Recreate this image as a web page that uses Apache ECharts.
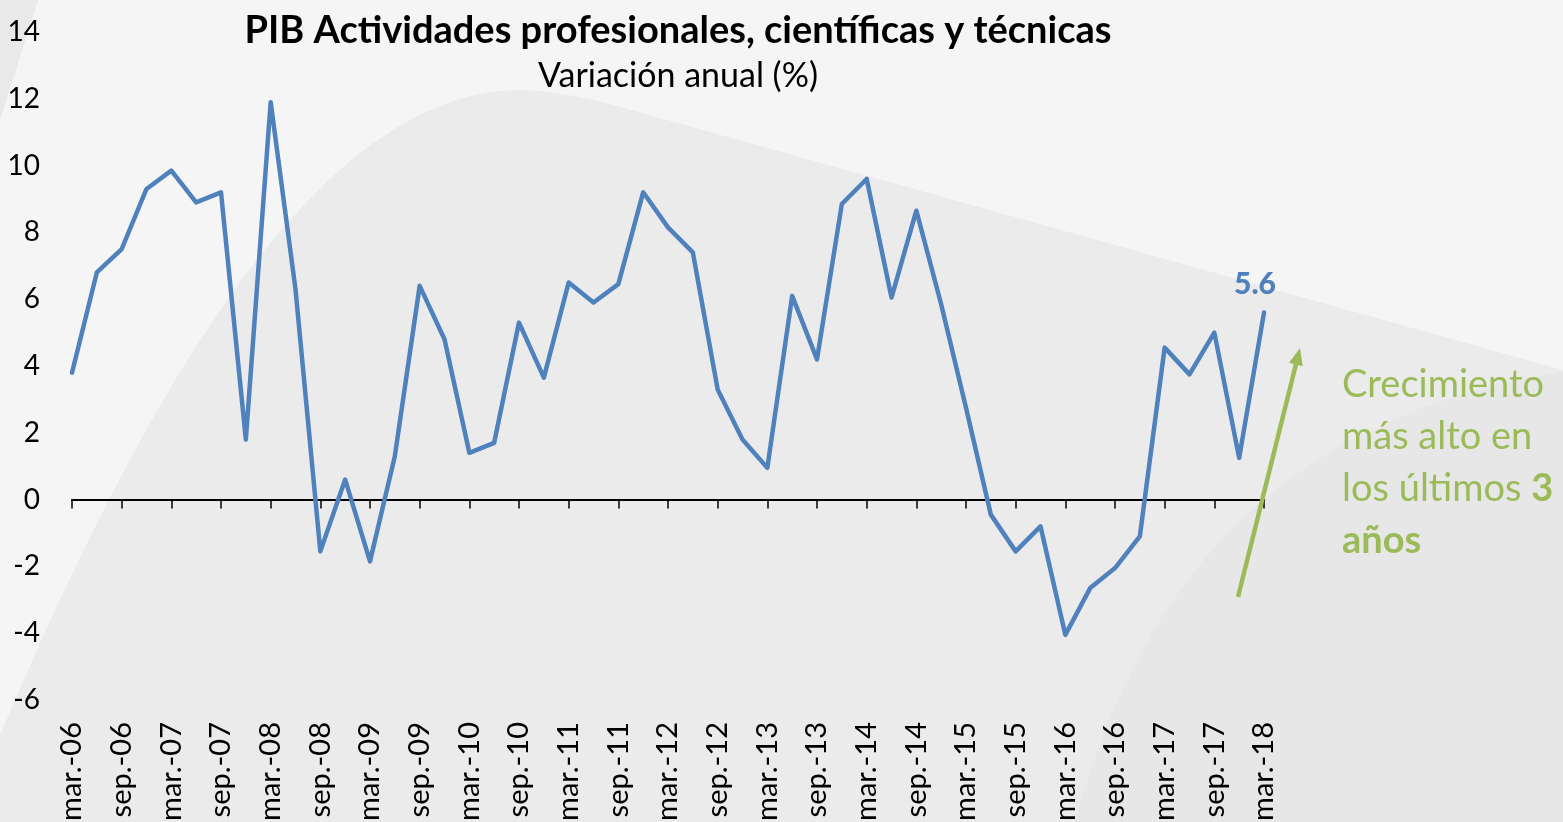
<!DOCTYPE html>
<html>
<head>
<meta charset="utf-8">
<script src="https://cdn.jsdelivr.net/npm/echarts@6/dist/echarts.min.js"></script>
<style>
    html, body { margin: 0; padding: 0; background: #f5f5f5; }
    #chart { width: 1563px; height: 822px; }
</style>
</head>
<body>
<div id="chart"></div>
<script>
// quarters, only mar / sep get a label
const quarters = [
    'mar.-06','jun.-06','sep.-06','dic.-06',
    'mar.-07','jun.-07','sep.-07','dic.-07',
    'mar.-08','jun.-08','sep.-08','dic.-08',
    'mar.-09','jun.-09','sep.-09','dic.-09',
    'mar.-10','jun.-10','sep.-10','dic.-10',
    'mar.-11','jun.-11','sep.-11','dic.-11',
    'mar.-12','jun.-12','sep.-12','dic.-12',
    'mar.-13','jun.-13','sep.-13','dic.-13',
    'mar.-14','jun.-14','sep.-14','dic.-14',
    'mar.-15','jun.-15','sep.-15','dic.-15',
    'mar.-16','jun.-16','sep.-16','dic.-16',
    'mar.-17','jun.-17','sep.-17','dic.-17',
    'mar.-18'
]

// PIB actividades profesionales, variacion anual (%)
const pibVariation = [
    3.8, 6.8, 7.5, 9.3, 9.85, 8.9, 9.2, 1.8,
    11.9, 6.3, -1.55, 0.6, -1.85, 1.3, 6.4, 4.8,
    1.4, 1.7, 5.3, 3.65, 6.5, 5.9, 6.45, 9.2,
    8.15, 7.4, 3.3, 1.8, 0.95, 6.1, 4.2, 8.85,
    9.6, 6.05, 8.65, 5.85, 2.75, -0.45, -1.55, -0.8,
    -4.05, -2.65, -2.05, -1.1, 4.55, 3.75, 5.0, 1.25,
    5.6
]

const yMin = -6
const yMax = 14
const yStep = 2

const blue = '#4f81bd'
const green = '#9bbb59'
const font = 'Lato'

// sample a cubic bezier for the decorative background shapes
function bezier(p0, p1, p2, p3, n=24){
    const pts = []
    for( let i=0; i<=n; i++ ){
        const t = i/n, u = 1-t
        pts.push([
            u*u*u*p0[0] + 3*u*u*t*p1[0] + 3*u*t*t*p2[0] + t*t*t*p3[0],
            u*u*u*p0[1] + 3*u*u*t*p1[1] + 3*u*t*t*p2[1] + t*t*t*p3[1]
        ])
    }
    return pts
}

const bigShape = [
    ...bezier([0,735], [150,380], [320,95], [515,90]),
    ...bezier([515,90], [565,90], [610,104], [660,118]),
    [1563,370], [1563,822], [0,822]
]
const cornerShape = [
    ...bezier([1075,822], [1130,620], [1250,420], [1563,372]),
    [1563,822]
]

// arrow head
const tip = [1300,348], tail = [1238,597]
const len = Math.hypot(tip[0]-tail[0], tip[1]-tail[1])
const ux = (tip[0]-tail[0])/len, uy = (tip[1]-tail[1])/len
const base = [tip[0]-17*ux, tip[1]-17*uy]
const head = [tip, [base[0]-7*uy, base[1]+7*ux], [base[0]+7*uy, base[1]-7*ux]]

const chart = echarts.init(document.getElementById('chart'))

const lastIdx = pibVariation.length-1

chart.setOption({
    animation: false,
    backgroundColor: '#f5f5f5',
    title: {
        text: 'PIB Actividades profesionales, científicas y técnicas',
        subtext: 'Variación anual (%)',
        left: 673, top: 7, textAlign: 'center', itemGap: 9,
        textStyle: { fontFamily: font, fontSize: 38, fontWeight: 'bold', color: '#000' },
        subtextStyle: { fontFamily: font, fontSize: 34, color: '#000' }
    },
    grid: { left: 72, right: 299, top: 32, bottom: 122, outerBoundsMode: 'none' },
    xAxis: [{
        type: 'category', data: quarters, boundaryGap: false, position: 'bottom',
        axisLine: { onZero: true, lineStyle: { color: '#000', width: 2 } },
        axisTick: { interval: 1, length: 9, lineStyle: { color: '#000', width: 1.5 } },
        axisLabel: { show: false },
        splitLine: { show: false }
    },{
        type: 'category', data: quarters, boundaryGap: false, position: 'bottom',
        axisLine: { show: false, onZero: false },
        axisTick: { show: false },
        axisLabel: { interval: 1, rotate: 90, margin: 22, fontFamily: font, fontSize: 29, color: '#000' },
        splitLine: { show: false }
    }],
    yAxis: {
        type: 'value', min: yMin, max: yMax, interval: yStep,
        axisLine: { show: false }, axisTick: { show: false }, splitLine: { show: false },
        axisLabel: { margin: 32, fontFamily: font, fontSize: 28, color: '#000' }
    },
    series: [{
        type: 'line', xAxisIndex: 0,
        data: pibVariation.map((v,i)=> i == lastIdx ? {
            value: v,
            label: { show: true, position: 'top', offset: [-9,-8], formatter: '{c}',
                color: blue, fontFamily: font, fontWeight: 900, fontSize: 30 }
        } : v),
        symbol: 'circle', symbolSize: 0, showSymbol: true,
        lineStyle: { color: blue, width: 4.5, join: 'round', cap: 'round' },
        z: 5
    }],
    graphic: [
        { type: 'polygon', z: -100, silent: true, shape: { points: [[0,0],[38,0],[0,120]] }, style: { fill: '#e9e9e9' } },
        { type: 'polygon', z: -100, silent: true, shape: { points: bigShape }, style: { fill: '#ebebeb' } },
        { type: 'polygon', z: -99, silent: true, shape: { points: cornerShape }, style: { fill: '#e7e7e7' } },
        { type: 'line', z: 100, silent: true,
            shape: { x1: tail[0], y1: tail[1], x2: base[0], y2: base[1] },
            style: { stroke: green, lineWidth: 4.5 } },
        { type: 'polygon', z: 100, silent: true, shape: { points: head }, style: { fill: green } },
        { type: 'text', z: 100, silent: true, x: 1342, y: 359,
            style: {
                text: 'Crecimiento\nmás alto en\nlos últimos {b|3}\n{b|años}',
                fontFamily: font, fontSize: 38, fill: green, lineHeight: 52,
                align: 'left', verticalAlign: 'top',
                rich: { b: { fontFamily: font, fontSize: 38, fontWeight: 'bold', fill: green, lineHeight: 52 } }
            } }
    ]
})
</script>
</body>
</html>
